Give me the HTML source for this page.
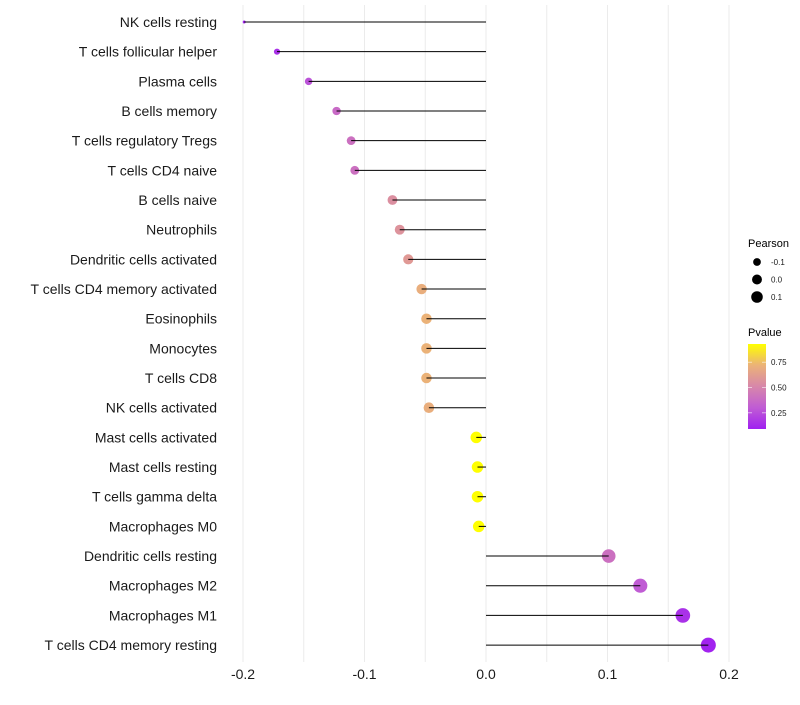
<!DOCTYPE html>
<html><head><meta charset="utf-8"><style>
body{margin:0;background:#fff;font-family:"Liberation Sans",sans-serif;}
</style></head><body>
<svg id="chart" width="800" height="700" xmlns="http://www.w3.org/2000/svg"></svg>
<script>
const categories=["NK cells resting","T cells follicular helper","Plasma cells","B cells memory","T cells regulatory  Tregs ","T cells CD4 naive","B cells naive","Neutrophils","Dendritic cells activated","T cells CD4 memory activated","Eosinophils","Monocytes","T cells CD8","NK cells activated","Mast cells activated","Mast cells resting","T cells gamma delta","Macrophages M0","Dendritic cells resting","Macrophages M2","Macrophages M1","T cells CD4 memory resting"];
const pearson=[-0.199,-0.172,-0.146,-0.123,-0.111,-0.108,-0.077,-0.071,-0.064,-0.053,-0.049,-0.049,-0.049,-0.047,-0.008,-0.007,-0.007,-0.006,0.101,0.127,0.162,0.183];
const pvalue=[0.1,0.15,0.27,0.37,0.4,0.4,0.55,0.57,0.6,0.7,0.72,0.72,0.72,0.7,0.93,0.93,0.93,0.93,0.4,0.3,0.15,0.1];
const xTicks=[-0.2,-0.1,0,0.1,0.2];
const xTickLabels=["-0.2","-0.1","0.0","0.1","0.2"];
const sizeLegend=[-0.1,0,0.1];
const colorLegend=[0.25,0.5,0.75];

const svg=document.getElementById('chart');
const NS="http://www.w3.org/2000/svg";
function mk(t,a,p){const e=document.createElementNS(NS,t);for(const k in a)e.setAttribute(k,a[k]);(p||svg).appendChild(e);return e;}
const X=v=>486+v*1215;
const Y=i=>22+i*29.67;
const pmin=0.09,pmax=0.93;
const stops=[[0,[160,32,240]],[0.25,[192,92,212]],[0.5,[215,135,170]],[0.75,[235,178,120]],[1,[255,255,0]]];
function col(p){let t=(p-pmin)/(pmax-pmin);t=Math.max(0,Math.min(1,t));for(let i=1;i<stops.length;i++){if(t<=stops[i][0]){const a=stops[i-1],b=stops[i];const f=(t-a[0])/(b[0]-a[0]);return 'rgb('+a[1].map((c,j)=>Math.round(c+(b[1][j]-c)*f)).join(',')+')';}}return 'rgb(255,255,0)';}
const smin=Math.min(...pearson),smax=Math.max(...pearson);
const R=v=>1.5+6*Math.sqrt(Math.max(0,(v-smin)/(smax-smin)));

for(let v=-0.2;v<=0.2001;v+=0.05){const g=mk('line',{x1:X(v),x2:X(v),y1:5,y2:662,stroke:'#ebebeb','stroke-width':1});

}
xTicks.forEach((v,i)=>{const t=mk('text',{x:X(v),y:679,'text-anchor':'middle','font-size':14,fill:'#1a1a1a'});t.textContent=xTickLabels[i];

});
categories.forEach((c,i)=>{
const y=Y(i);
const t=mk('text',{x:217,y:y+5,'text-anchor':'end','font-size':14,fill:'#1a1a1a'});t.textContent=c;


const d=mk('circle',{cx:X(pearson[i]),cy:y,r:R(pearson[i]),fill:col(pvalue[i])});


const l=mk('line',{x1:X(0),x2:X(pearson[i]),y1:y,y2:y,stroke:'#000','stroke-width':1});


});
const lt=mk('text',{x:748,y:247,'font-size':11,fill:'#000'});lt.textContent='Pearson';


sizeLegend.forEach((v,i)=>{const y=262+i*17.5;
const c=mk('circle',{cx:757,cy:y,r:R(v)*0.85,fill:'#000'});


const t=mk('text',{x:771,y:y+3,'font-size':8,fill:'#1a1a1a'});t.textContent=v===0?'0.0':String(v);

});
const ct=mk('text',{x:748,y:336,'font-size':11,fill:'#000'});ct.textContent='Pvalue';


const defs=mk('defs',{});const lg=mk('linearGradient',{id:'pg',x1:0,y1:1,x2:0,y2:0},defs);
stops.forEach(s=>mk('stop',{offset:s[0],'stop-color':'rgb('+s[1].join(',')+')'},lg));
const bar=mk('rect',{x:748,y:344,width:18,height:85,fill:'url(#pg)'});


const CY=p=>429-(p-pmin)/(pmax-pmin)*85;
colorLegend.forEach(p=>{const y=CY(p);
mk('line',{x1:748,x2:752,y1:y,y2:y,stroke:'#fff','stroke-width':0.8,opacity:0.7});
mk('line',{x1:762,x2:766,y1:y,y2:y,stroke:'#fff','stroke-width':0.8,opacity:0.7});
const t=mk('text',{x:771,y:y+3,'font-size':8,fill:'#1a1a1a'});t.textContent=p.toFixed(2);

});
</script>
</body></html>
